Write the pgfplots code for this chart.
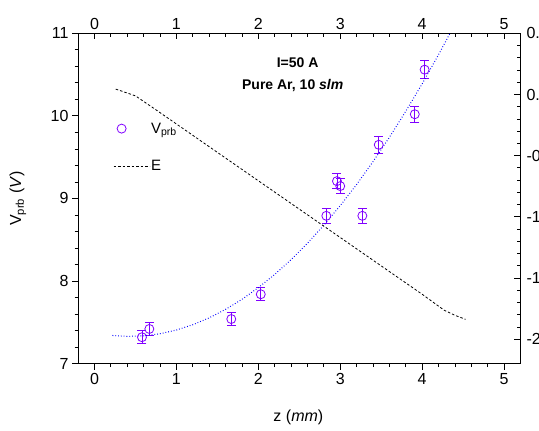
\documentclass[border=0pt]{standalone}
\usepackage{pgfplots}
\pgfplotsset{compat=1.18}
\usepackage{fontspec}
\setmainfont{Liberation Sans}
\definecolor{vprb}{RGB}{128,0,255}
\begin{document}
\begin{tikzpicture}
\pgfplotsset{
  common/.style={
    width=442bp, height=330bp, scale only axis,
    xmin=-0.2, xmax=5.2,
    xtick={0,1,2,3,4,5},
    minor x tick num=4,
    minor y tick num=4,
    major tick length=6bp, minor tick length=3.5bp,
    every tick/.style={black, line width=0.8bp},
    axis line style={line width=0.9bp},
    tick label style={font=\fontsize{16bp}{19bp}\selectfont},
    label style={font=\fontsize{16bp}{19bp}\selectfont},
    /pgf/number format/assume math mode=true,
  }
}
\begin{axis}[common, name=A,
  axis x line*=bottom, axis y line*=left,
  tick align=outside,
  ymin=7, ymax=11,
  ytick={7,8,9,10,11},
  xlabel={z (\textit{mm})},
  ylabel={V\textsubscript{prb} (\textit{V})},
  xlabel style={at={(axis description cs:0.498,-0.163)}, anchor=center},
  ylabel style={at={(axis description cs:-0.136,0.5)}, anchor=center},
  legend style={draw=none, fill=none, inner sep=0pt, at={(0.079,0.733)}, anchor=north west,
    font=\fontsize{15bp}{18bp}\selectfont, row sep=24bp,
    nodes={inner sep=1bp}},
  legend cell align=left,
  clip=false,
]
\addplot[vprb, only marks, mark=o, mark size=4.5bp, mark options={line width=0.8bp},
  legend image code/.code={\draw[mark repeat=1] plot coordinates {(8bp,0bp)}; \path (0bp,0bp) (32bp,0bp);},
  error bars/.cd, y dir=both, y explicit,
  error bar style={vprb, line width=0.8bp},
  error mark options={rotate=90, mark size=4.5bp, vprb, line width=0.8bp}]
  coordinates {
  (0.58,7.32) +- (0,0.08)
  (0.67,7.42) +- (0,0.08)
  (1.67,7.54) +- (0,0.08)
  (2.03,7.84) +- (0,0.08)
  (2.83,8.79) +- (0,0.09)
  (2.96,9.21) +- (0,0.09)
  (3.00,9.15) +- (0,0.09)
  (3.27,8.79) +- (0,0.09)
  (3.47,9.65) +- (0,0.10)
  (3.91,10.02) +- (0,0.10)
  (4.03,10.56) +- (0,0.11)
  };
\addlegendentry{V\textsubscript{prb}}
\addlegendimage{legend image code/.code={\draw[black, line width=0.8bp, dash pattern=on 2.5bp off 2bp] (0bp,0bp) -- (36bp,0bp);}}
\addlegendentry{E}
\addplot[blue, line width=1bp, dash pattern=on 0.8bp off 2bp, forget plot] coordinates {
  (0.22,7.341) (0.4,7.330) (0.6,7.337) (0.8,7.362) (1.0,7.407) (1.2,7.471)
  (1.4,7.554) (1.6,7.657) (1.8,7.778) (2.0,7.920) (2.2,8.080) (2.4,8.259)
  (2.6,8.458) (2.8,8.676) (3.0,8.914) (3.2,9.170) (3.4,9.446) (3.6,9.741)
  (3.8,10.056) (4.0,10.389) (4.2,10.742) (4.34,11.0)
};
\node[font=\bfseries\fontsize{14bp}{17bp}\selectfont] at (axis cs:2.48,10.64) {I=50 A};
\node[font=\bfseries\fontsize{14bp}{17bp}\selectfont] at (axis cs:2.42,10.37) {Pure Ar, 10 \textit{slm}};
\end{axis}
\begin{axis}[common, name=B,
  axis x line*=top, axis y line*=right,
  tick align=inside,
  ymin=-2.2, ymax=0.5,
  ytick={-2,-1.5,-1,-0.5,0,0.5},
  yticklabels={-2.0,-1.5,-1.0,-0.5,0.0,0.5},
  yticklabel style={xshift=2.5bp},
]
\addplot[black, line width=0.8bp, dash pattern=on 2.5bp off 2bp] coordinates {
  (0.26,0.044) (0.50,-0.011) (0.75,-0.125) (1.05,-0.264) (1.5,-0.473)
  (2.0,-0.705) (2.5,-0.937) (3.0,-1.169) (3.5,-1.401) (4.0,-1.633)
  (4.27,-1.764) (4.4,-1.805) (4.53,-1.838)
};
\end{axis}
\pgfresetboundingbox
\path[use as bounding box] ([xshift=-78bp,yshift=-66.7bp]A.south west) rectangle ([xshift=18.5bp,yshift=33.3bp]A.north east);
\end{tikzpicture}
\end{document}
